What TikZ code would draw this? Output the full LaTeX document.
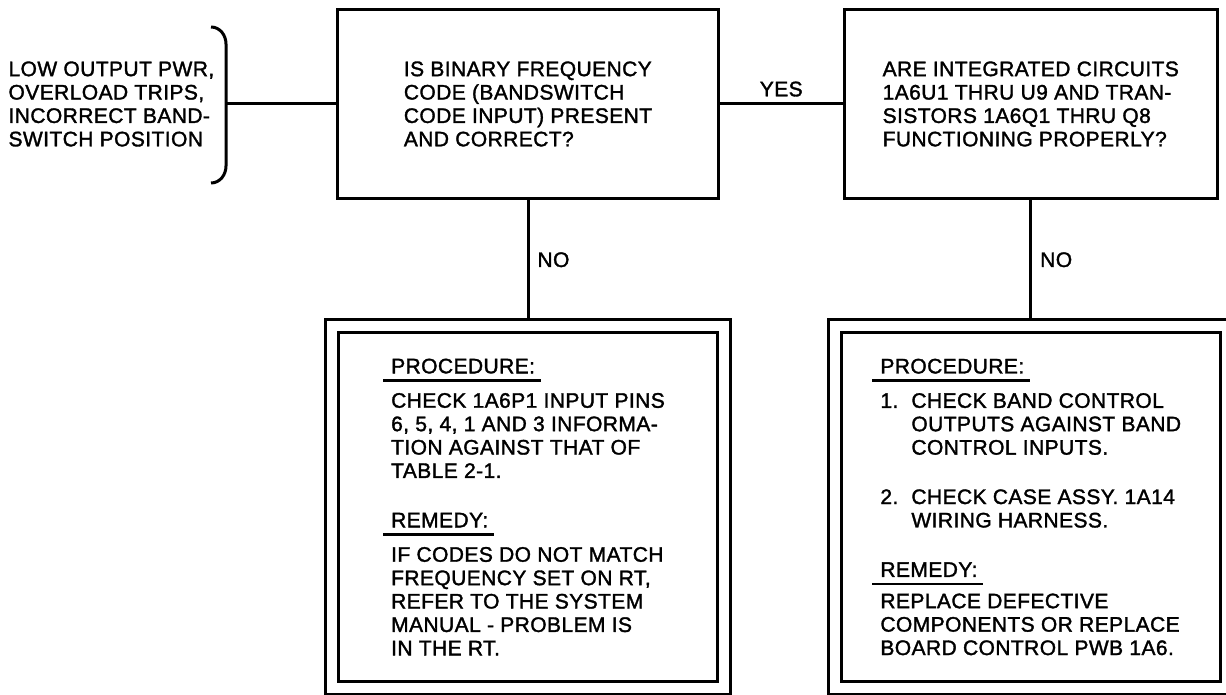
\documentclass[tikz,border=0pt]{standalone}
\usepackage{fontspec}
\setmainfont{Liberation Sans}[FakeBold=1.6, LetterSpace=2]
\usepackage{calc}
\usetikzlibrary{positioning}
\newlength{\headwd}
\newcommand{\uhead}[1]{\settowidth{\headwd}{#1}\hspace*{-8pt}\rlap{\rule[-8.5pt]{\headwd+14pt}{2.6pt}}\hspace*{8pt}#1}
\newcommand{\stepnum}[1]{\makebox[31pt][l]{#1}}
\newcommand{\stepcont}{\hspace*{31pt}}
\tikzset{
    chart/.style={font=\fontsize{21}{23.4}\selectfont, text=black},
    query/.style={rectangle, draw, line width=3pt, minimum height=189pt,
                  align=left, chart},
    action/.style={rectangle, draw, line width=3pt, double, double distance=10pt,
                  minimum width=392pt, minimum height=362pt, outer sep=6.5pt,
                  align=left, chart},
    line/.style={draw, line width=3pt},
    answer/.style={chart, inner sep=4pt}
}
\begin{document}
\begin{tikzpicture}[x=1pt, y=-1pt]
  \useasboundingbox (0,0) rectangle (1226,695);
  \node [chart, align=left, anchor=west] (symptom) at (5,104)
        {LOW OUTPUT PWR,\\OVERLOAD TRIPS,\\INCORRECT BAND-\\SWITCH POSITION};
  \node [query, minimum width=381pt] (Q1) at (528,104)
        {IS BINARY FREQUENCY\\CODE (BANDSWITCH\\CODE INPUT) PRESENT\\AND CORRECT?};
  \node [query, minimum width=373.5pt, right=122.5pt of Q1] (Q2)
        {ARE INTEGRATED CIRCUITS\\1A6U1 THRU U9 AND TRAN-\\SISTORS 1A6Q1 THRU Q8\\FUNCTIONING PROPERLY?};
  \node [action, below=119.5pt of Q1] (P1)
        {\uhead{PROCEDURE:}\\[11pt]
         CHECK 1A6P1 INPUT PINS\\6, 5, 4, 1 AND 3 INFORMA-\\TION AGAINST THAT OF\\TABLE 2-1.\\[26pt]
         \uhead{REMEDY:}\\[11pt]
         IF CODES DO NOT MATCH\\FREQUENCY SET ON RT,\\REFER TO THE SYSTEM\\MANUAL - PROBLEM IS\\IN THE RT.};
  \node [action, below=119.5pt of Q2] (P2)
        {\uhead{PROCEDURE:}\\[11pt]
         \stepnum{1.}CHECK BAND CONTROL\\\stepcont OUTPUTS AGAINST BAND\\\stepcont CONTROL INPUTS.\\[26pt]
         \stepnum{2.}CHECK CASE ASSY. 1A14\\\stepcont WIRING HARNESS.\\[26pt]
         \uhead{REMEDY:}\\[8pt]
         REPLACE DEFECTIVE\\COMPONENTS OR REPLACE\\BOARD CONTROL PWB 1A6.};

  % bracket round the symptoms
  \coordinate (brace) at (226,104);
  \draw [line] (211,27) to[out=0, in=90] (226,44) -- (226,166) to[out=-90, in=0] (211,183);

  \draw [line] (brace) -- (Q1);
  \draw [line] (Q1) -- node[answer, above=2pt] {YES} (Q2);
  \draw [line] (Q1.south) -- node[answer, right=4pt] {NO} (P1.north);
  \draw [line] (Q2.south) -- node[answer, right=4pt] {NO} (P2.north);
\end{tikzpicture}
\end{document}
